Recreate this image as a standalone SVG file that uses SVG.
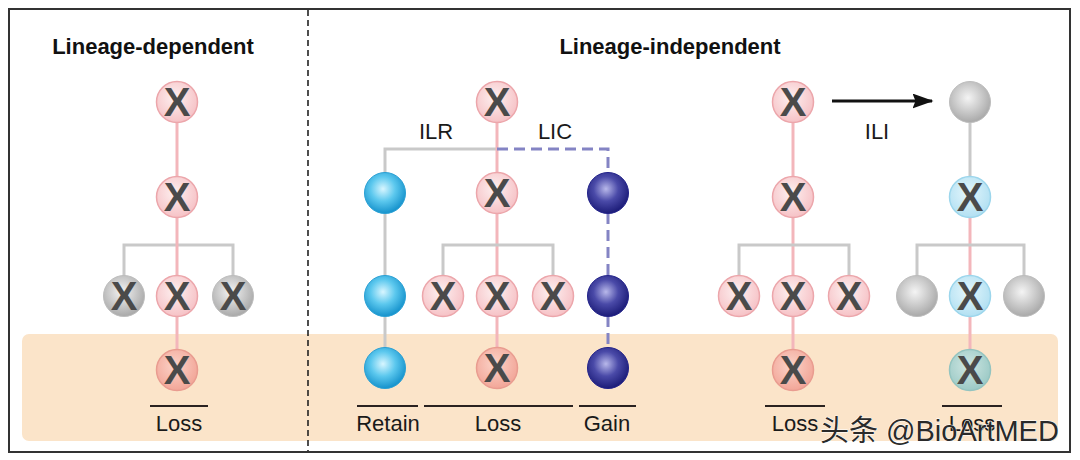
<svg xmlns="http://www.w3.org/2000/svg" width="1080" height="460" viewBox="0 0 1080 460">
<defs>
<radialGradient id="gPink" cx="0.45" cy="0.4" r="0.6"><stop offset="0" stop-color="#fdf0f0"/><stop offset="1" stop-color="#f6c2c6"/></radialGradient>
<radialGradient id="gPinkBand" cx="0.45" cy="0.4" r="0.6"><stop offset="0" stop-color="#fbd3c8"/><stop offset="1" stop-color="#f2a698"/></radialGradient>
<radialGradient id="gGray" cx="0.45" cy="0.4" r="0.6"><stop offset="0" stop-color="#f4f4f4"/><stop offset="1" stop-color="#a9a9a9"/></radialGradient>
<radialGradient id="gBlue" cx="0.45" cy="0.4" r="0.6"><stop offset="0" stop-color="#d8f6ff"/><stop offset="0.5" stop-color="#5cc8ee"/><stop offset="1" stop-color="#1592cc"/></radialGradient>
<radialGradient id="gNavy" cx="0.45" cy="0.4" r="0.6"><stop offset="0" stop-color="#b8b8ea"/><stop offset="0.5" stop-color="#4a4aa8"/><stop offset="1" stop-color="#1c1c78"/></radialGradient>
<radialGradient id="gLBlue" cx="0.45" cy="0.4" r="0.6"><stop offset="0" stop-color="#e4f6fc"/><stop offset="1" stop-color="#b2e0f2"/></radialGradient>
<radialGradient id="gTeal" cx="0.45" cy="0.4" r="0.6"><stop offset="0" stop-color="#cfe6e2"/><stop offset="1" stop-color="#9ccac6"/></radialGradient>
<marker id="arr" viewBox="0 0 14 10" refX="13" refY="5" markerWidth="7" markerHeight="5" orient="auto" markerUnits="strokeWidth"><path d="M0,0 L14,5 L0,10 L2,5 Z" fill="#111"/></marker>
</defs>
<style>
.pink{fill:url(#gPink);stroke:#eca6ab;stroke-width:1.5}
.pinkb{fill:url(#gPinkBand);stroke:#e99c90;stroke-width:1.5}
.gray{fill:url(#gGray);stroke:#bdbdbd;stroke-width:1}
.blue{fill:url(#gBlue);stroke:#2aa0d4;stroke-width:1}
.navy{fill:url(#gNavy);stroke:#22228a;stroke-width:1}
.lblue{fill:url(#gLBlue);stroke:#9cd6ec;stroke-width:1.5}
.teal{fill:url(#gTeal);stroke:#94c4c0;stroke-width:1.5}
.x{font-family:"Liberation Sans",Arial,sans-serif;font-weight:bold;font-size:40px;fill:#4a4a4a;text-anchor:middle}
.lp{stroke:#f3b6bb;stroke-width:3;fill:none}
.lg{stroke:#c9c9c9;stroke-width:3;fill:none}
.ld{stroke:#8484c4;stroke-width:3;fill:none;stroke-dasharray:11 6}
.lab{font-family:"Liberation Sans",Arial,sans-serif;font-size:22px;fill:#1a1a1a;text-anchor:middle}
.ttl{font-family:"Liberation Sans",Arial,sans-serif;font-size:22px;font-weight:bold;fill:#111;text-anchor:middle}
.ul{stroke:#2a2220;stroke-width:2.2}
</style>
<rect x="0" y="0" width="1080" height="460" fill="#fff"/>
<rect x="22" y="334" width="1036" height="107" rx="7" fill="#fbe4c9"/>
<rect x="9" y="9" width="1061" height="443" fill="none" stroke="#333" stroke-width="2"/>
<line x1="308" y1="10" x2="308" y2="451" stroke="#222" stroke-width="1.6" stroke-dasharray="6 4"/>
<text class="ttl" x="153" y="54">Lineage-dependent</text>
<text class="ttl" x="670" y="54">Lineage-independent</text>

<g id="connectors">
<path class="lg" d="M124,276 V245 H233 V276"/>
<path class="lp" d="M177,122 V350"/>
<path class="lg" d="M385,173 V149 H497"/>
<path class="lg" d="M385,213 V276 M385,316 V348"/>
<path class="lp" d="M497,122 V348"/>
<path class="lg" d="M443,276 V245 H553 V276"/>
<path class="ld" d="M497,149 H608 V173"/>
<path class="ld" d="M608,213 V276 M608,316 V348"/>
<path class="lp" d="M793,122 V350"/>
<path class="lg" d="M739,276 V245 H849 V276"/>
<line x1="832" y1="101" x2="932" y2="101" stroke="#111" stroke-width="3" marker-end="url(#arr)"/>
<path class="lg" d="M970,122 V177"/>
<path class="lp" d="M970,217 V350"/>
<path class="lg" d="M917,276 V245 H1024 V276"/>
</g>

<g id="n-left-1"><circle class="pink" cx="177" cy="102" r="20.5"/><text class="x" x="177" y="116">X</text></g>
<g id="n-left-2"><circle class="pink" cx="177" cy="197" r="20.5"/><text class="x" x="177" y="211">X</text></g>
<g id="n-left-3a"><circle class="gray" cx="124" cy="296" r="20.5"/><text class="x" x="124" y="310">X</text></g>
<g id="n-left-3b"><circle class="pink" cx="177" cy="296" r="20.5"/><text class="x" x="177" y="310">X</text></g>
<g id="n-left-3c"><circle class="gray" cx="233" cy="296" r="20.5"/><text class="x" x="233" y="310">X</text></g>
<g id="n-left-4"><circle class="pinkb" cx="177" cy="370" r="20.5"/><text class="x" x="177" y="384">X</text></g>

<g id="n-mid-root"><circle class="pink" cx="497" cy="102" r="20.5"/><text class="x" x="497" y="116">X</text></g>
<g id="n-mid-b1"><circle class="blue" cx="385" cy="193" r="20.5"/></g>
<g id="n-mid-b2"><circle class="blue" cx="385" cy="296" r="20.5"/></g>
<g id="n-mid-b3"><circle class="blue" cx="385" cy="368" r="20.5"/></g>
<g id="n-mid-p1"><circle class="pink" cx="497" cy="193" r="20.5"/><text class="x" x="497" y="207">X</text></g>
<g id="n-mid-p2a"><circle class="pink" cx="443" cy="296" r="20.5"/><text class="x" x="443" y="310">X</text></g>
<g id="n-mid-p2b"><circle class="pink" cx="497" cy="296" r="20.5"/><text class="x" x="497" y="310">X</text></g>
<g id="n-mid-p2c"><circle class="pink" cx="553" cy="296" r="20.5"/><text class="x" x="553" y="310">X</text></g>
<g id="n-mid-p3"><circle class="pinkb" cx="497" cy="368" r="20.5"/><text class="x" x="497" y="382">X</text></g>
<g id="n-mid-n1"><circle class="navy" cx="608" cy="193" r="20.5"/></g>
<g id="n-mid-n2"><circle class="navy" cx="608" cy="296" r="20.5"/></g>
<g id="n-mid-n3"><circle class="navy" cx="608" cy="368" r="20.5"/></g>

<g id="n-r-1"><circle class="pink" cx="793" cy="102" r="20.5"/><text class="x" x="793" y="116">X</text></g>
<g id="n-r-2"><circle class="pink" cx="793" cy="197" r="20.5"/><text class="x" x="793" y="211">X</text></g>
<g id="n-r-3a"><circle class="pink" cx="739" cy="296" r="20.5"/><text class="x" x="739" y="310">X</text></g>
<g id="n-r-3b"><circle class="pink" cx="793" cy="296" r="20.5"/><text class="x" x="793" y="310">X</text></g>
<g id="n-r-3c"><circle class="pink" cx="849" cy="296" r="20.5"/><text class="x" x="849" y="310">X</text></g>
<g id="n-r-4"><circle class="pinkb" cx="793" cy="370" r="20.5"/><text class="x" x="793" y="384">X</text></g>

<g id="n-fr-1"><circle class="gray" cx="970" cy="102" r="20.5"/></g>
<g id="n-fr-2"><circle class="lblue" cx="970" cy="197" r="20.5"/><text class="x" x="970" y="211">X</text></g>
<g id="n-fr-3a"><circle class="gray" cx="917" cy="296" r="20.5"/></g>
<g id="n-fr-3b"><circle class="lblue" cx="970" cy="296" r="20.5"/><text class="x" x="970" y="310">X</text></g>
<g id="n-fr-3c"><circle class="gray" cx="1024" cy="296" r="20.5"/></g>
<g id="n-fr-4"><circle class="teal" cx="970" cy="370" r="20.5"/><text class="x" x="970" y="384">X</text></g>

<g id="labels">
<text class="lab" x="436" y="139">ILR</text>
<text class="lab" x="555" y="139">LIC</text>
<text class="lab" x="877" y="139">ILI</text>
<line class="ul" x1="150" y1="406" x2="208" y2="406"/>
<text class="lab" x="179" y="431">Loss</text>
<line class="ul" x1="357" y1="406" x2="418" y2="406"/>
<text class="lab" x="388" y="431">Retain</text>
<line class="ul" x1="424" y1="406" x2="573" y2="406"/>
<text class="lab" x="498" y="431">Loss</text>
<line class="ul" x1="579" y1="406" x2="636" y2="406"/>
<text class="lab" x="607" y="431">Gain</text>
<line class="ul" x1="765" y1="406" x2="825" y2="406"/>
<text class="lab" x="795" y="431">Loss</text>
<line class="ul" x1="942" y1="406" x2="1002" y2="406"/>
<text class="lab" x="972" y="431">Loss</text>
</g>
<text x="820" y="441" font-family="'Liberation Sans','Noto Sans CJK SC',sans-serif" font-size="29" fill="#2a2a2a" stroke="#ffffff" stroke-width="0.8" paint-order="stroke">头条 @BioArtMED</text>
</svg>
